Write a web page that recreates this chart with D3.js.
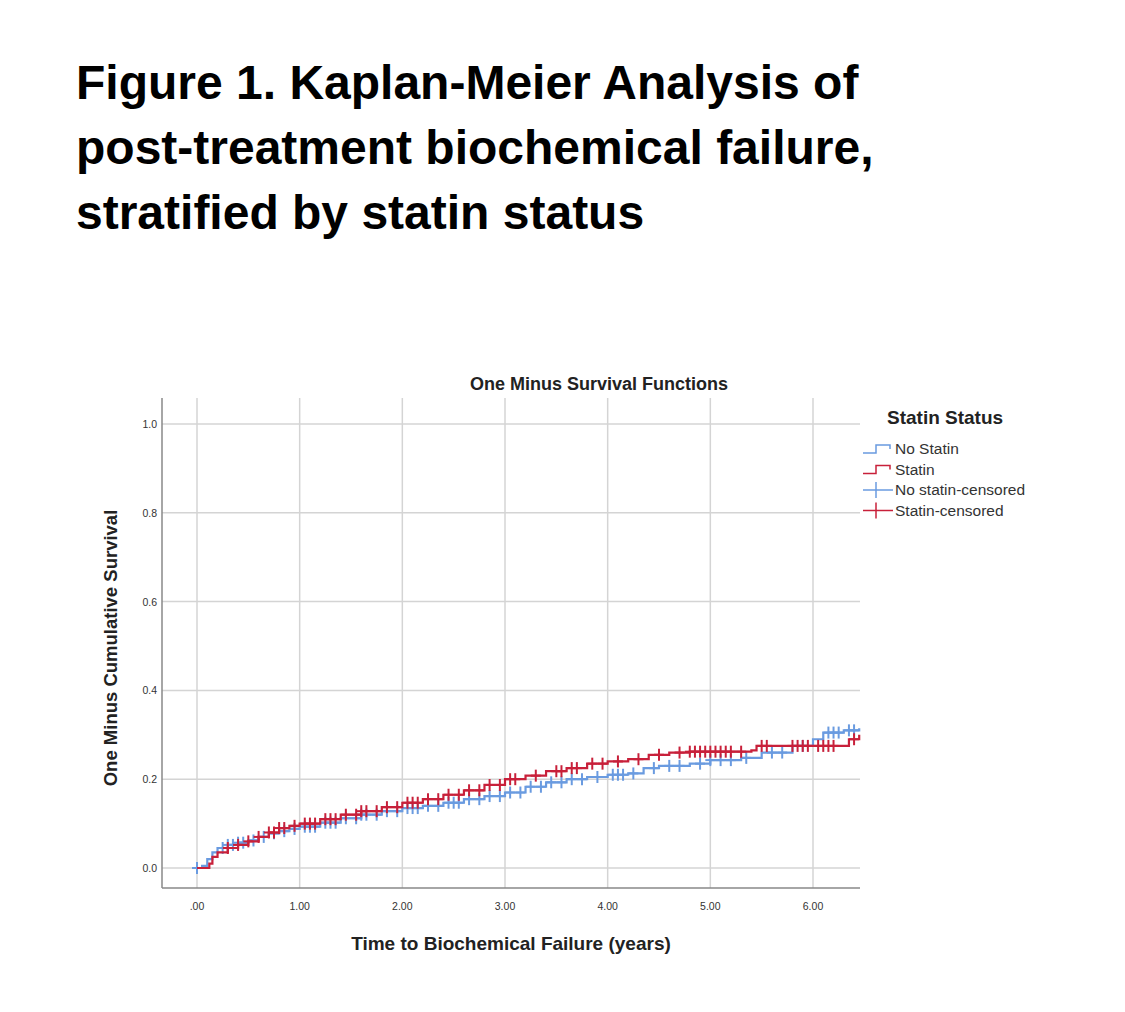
<!DOCTYPE html>
<html><head><meta charset="utf-8">
<script src="https://cdn.jsdelivr.net/npm/d3@7"></script>
<style>body{margin:0;background:#fff}</style></head>
<body><svg id="c" width="1125" height="1012"></svg>
<script>
const titleLines=["Figure 1. Kaplan-Meier Analysis of","post-treatment biochemical failure,","stratified by statin status"];
const xTicks=[0,1,2,3,4,5,6];
const yTicks=[0,0.2,0.4,0.6,0.8,1.0];
const noStatinT=[0,0.05,0.1,0.15,0.2,0.3,0.4,0.5,0.6,0.7,0.8,0.9,1.0,1.2,1.4,1.6,1.8,2.0,2.2,2.4,2.6,2.8,3.0,3.2,3.4,3.6,3.8,4.0,4.2,4.35,4.5,4.8,5.0,5.3,5.5,5.8,6.0,6.1,6.3,6.45];
const noStatinV=[0,0.005,0.02,0.035,0.045,0.052,0.057,0.062,0.07,0.078,0.083,0.088,0.093,0.102,0.112,0.12,0.128,0.135,0.14,0.147,0.155,0.162,0.17,0.183,0.193,0.2,0.205,0.21,0.213,0.225,0.23,0.235,0.243,0.248,0.26,0.275,0.29,0.305,0.31,0.315];
const statinT=[0,0.1,0.12,0.15,0.2,0.3,0.4,0.5,0.6,0.7,0.8,0.9,1.0,1.2,1.4,1.6,1.8,2.0,2.2,2.4,2.6,2.8,3.0,3.2,3.4,3.6,3.8,4.0,4.2,4.4,4.6,4.8,5.4,5.45,6.0,6.35,6.45];
const statinV=[0,0,0.01,0.025,0.035,0.045,0.052,0.06,0.07,0.08,0.09,0.095,0.1,0.11,0.12,0.128,0.137,0.147,0.155,0.165,0.175,0.187,0.2,0.208,0.218,0.225,0.235,0.24,0.245,0.255,0.26,0.262,0.265,0.275,0.275,0.29,0.3];
const noStatinCens=[0,0.25,0.3,0.35,0.4,0.45,0.55,0.65,0.75,0.85,0.95,1.05,1.1,1.15,1.25,1.3,1.35,1.45,1.55,1.6,1.65,1.75,1.85,1.95,2.05,2.1,2.15,2.25,2.35,2.45,2.5,2.55,2.65,2.75,2.85,2.95,3.05,3.15,3.25,3.35,3.45,3.55,3.65,3.75,3.9,4.05,4.1,4.15,4.25,4.45,4.6,4.7,4.9,5.0,5.1,5.2,5.35,5.6,5.7,5.9,6.15,6.2,6.25,6.35,6.4];
const statinCens=[0.3,0.4,0.5,0.6,0.7,0.75,0.8,0.85,0.95,1.05,1.1,1.15,1.25,1.3,1.35,1.45,1.55,1.6,1.65,1.75,1.85,1.95,2.05,2.1,2.15,2.25,2.35,2.45,2.55,2.65,2.75,2.85,2.95,3.05,3.1,3.3,3.5,3.55,3.65,3.7,3.85,3.95,4.1,4.3,4.5,4.7,4.8,4.85,4.9,4.95,5.0,5.05,5.1,5.15,5.2,5.3,5.5,5.55,5.8,5.85,5.9,5.95,6.05,6.1,6.15,6.2,6.4];
const legendLabels=["No Statin","Statin","No statin-censored","Statin-censored"];
const cBlue="#6a9be0", cRed="#c8203a";

const svg=d3.select("#c");
const F="Liberation Sans, Arial, sans-serif";
svg.selectAll(".tt").data(titleLines).enter().append("text")
 .attr("x",76).attr("y",(d,i)=>99+i*65).attr("font-family",F).attr("font-weight","bold").attr("font-size",48).text(d=>d);

const x=d3.scaleLinear().domain([0,6]).range([197,813]);
const y=d3.scaleLinear().domain([0,1]).range([868,424]);
const L=162,R=860,T=398,B=888;
const g=svg.append("g");
g.selectAll(".vg").data(xTicks).enter().append("line").attr("x1",d=>x(d)).attr("x2",d=>x(d)).attr("y1",T).attr("y2",B).attr("stroke","#d4d4d4").attr("stroke-width",1.5);
g.selectAll(".hg").data(yTicks).enter().append("line").attr("y1",d=>y(d)).attr("y2",d=>y(d)).attr("x1",L).attr("x2",R).attr("stroke","#d4d4d4").attr("stroke-width",1.5);
g.append("line").attr("x1",L).attr("x2",L).attr("y1",T).attr("y2",B).attr("stroke","#888").attr("stroke-width",1.5);
g.append("line").attr("x1",L).attr("x2",R).attr("y1",B).attr("y2",B).attr("stroke","#888").attr("stroke-width",1.5);
g.selectAll(".xl").data(xTicks).enter().append("text").attr("x",d=>x(d)).attr("y",910).attr("text-anchor","middle")
 .attr("font-family",F).attr("font-size",10.5).attr("fill","#333").text(d=>d===0?".00":d.toFixed(2));
g.selectAll(".yl").data(yTicks).enter().append("text").attr("x",157).attr("y",d=>y(d)+4).attr("text-anchor","end")
 .attr("font-family",F).attr("font-size",10.5).attr("fill","#333").text(d=>d.toFixed(1));
svg.append("text").attr("x",599).attr("y",390).attr("text-anchor","middle").attr("font-family",F).attr("font-weight","bold").attr("font-size",18).attr("fill","#222").text("One Minus Survival Functions");
svg.append("text").attr("x",511).attr("y",950).attr("text-anchor","middle").attr("font-family",F).attr("font-weight","bold").attr("font-size",19).attr("fill","#222").text("Time to Biochemical Failure (years)");
svg.append("text").attr("transform","translate(117,648) rotate(-90)").attr("text-anchor","middle").attr("font-family",F).attr("font-weight","bold").attr("font-size",18.5).attr("fill","#222").text("One Minus Cumulative Survival");

function stepVal(T,V,t){let v=V[0];for(let i=0;i<T.length;i++){if(T[i]<=t)v=V[i];}return v;}
function drawSeries(T,V,cens,col){
  const line=d3.line().x(d=>x(d[0])).y(d=>y(d[1])).curve(d3.curveStepAfter);
  g.append("path").datum(T.map((t,i)=>[t,V[i]])).attr("d",line).attr("fill","none").attr("stroke",col).attr("stroke-width",2.2);
  const cg=g.append("g").attr("stroke",col).attr("stroke-width",2);
  cens.forEach(t=>{const cx=x(t),cy=y(stepVal(T,V,t));
    cg.append("line").attr("x1",cx-5).attr("x2",cx+5).attr("y1",cy).attr("y2",cy);
    cg.append("line").attr("x1",cx).attr("x2",cx).attr("y1",cy-6).attr("y2",cy+6);});
}
drawSeries(noStatinT,noStatinV,noStatinCens,cBlue);
drawSeries(statinT,statinV,statinCens,cRed);

svg.append("text").attr("x",887).attr("y",424).attr("font-family",F).attr("font-weight","bold").attr("font-size",19).attr("fill","#222").text("Statin Status");
const lg=svg.append("g");
legendLabels.forEach((lab,i)=>{
  const cy=449+i*20.5, col=i%2===0?cBlue:cRed;
  if(i<2){lg.append("path").attr("d",`M863,${cy+4}H876V${cy-4}H890V${cy}`).attr("fill","none").attr("stroke",col).attr("stroke-width",1.5);}
  else{lg.append("line").attr("x1",863).attr("x2",893).attr("y1",cy).attr("y2",cy).attr("stroke",col).attr("stroke-width",1.5);
       lg.append("line").attr("x1",876).attr("x2",876).attr("y1",cy-8).attr("y2",cy+8).attr("stroke",col).attr("stroke-width",1.5);}
  lg.append("text").attr("x",895).attr("y",cy+5).attr("font-family",F).attr("font-size",15.5).attr("fill","#333").text(lab);
});
</script></body></html>
